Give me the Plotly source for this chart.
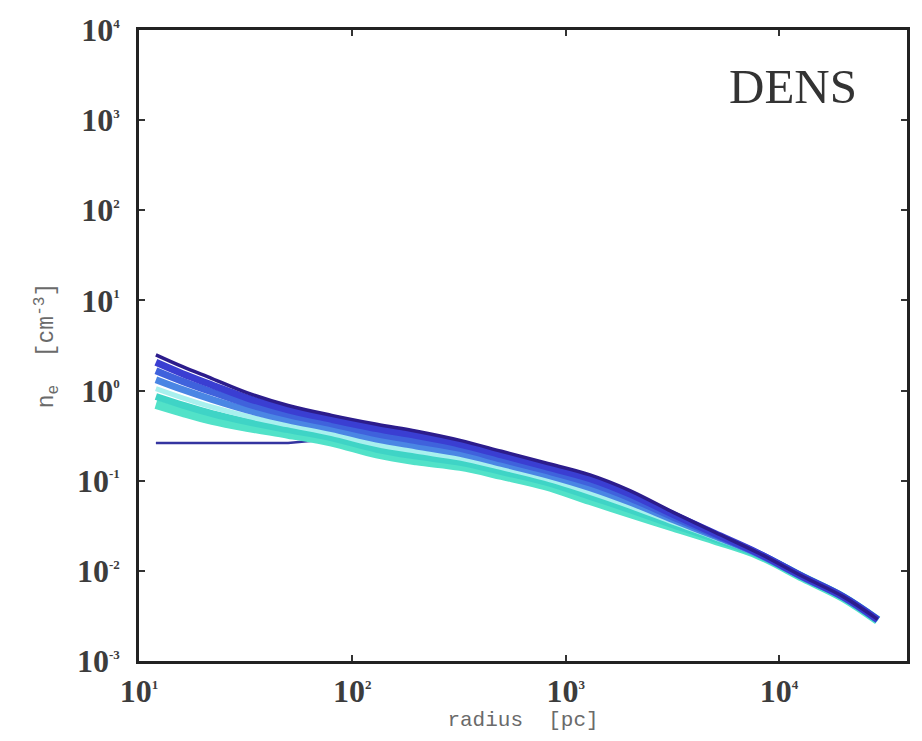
import plotly.graph_objects as go

radius = [12, 16, 22, 32, 50, 80, 130, 200, 320, 500, 800, 1300, 2000, 3200, 5000, 8000, 13000, 20000, 29000]

dens_1 = [2.49, 1.84, 1.36, 0.95, 0.684, 0.531, 0.423, 0.354, 0.280, 0.212, 0.158, 0.116, 0.0777, 0.0445, 0.0268, 0.0158, 0.00859, 0.00518, 0.00290]
dens_2 = [2.06, 1.54, 1.155, 0.831, 0.612, 0.479, 0.378, 0.316, 0.254, 0.193, 0.144, 0.1055, 0.0711, 0.0420, 0.0260, 0.01567, 0.00855, 0.00515, 0.00288]
dens_3 = [1.66, 1.265, 0.965, 0.716, 0.541, 0.428, 0.332, 0.278, 0.228, 0.1735, 0.1307, 0.0943, 0.0644, 0.0394, 0.0251, 0.01553, 0.00853, 0.00514, 0.00287]
dens_4 = [1.32, 1.026, 0.796, 0.610, 0.474, 0.378, 0.290, 0.2425, 0.2010, 0.1555, 0.1179, 0.0838, 0.0580, 0.0368, 0.0243, 0.01538, 0.00849, 0.00512, 0.00286]
dens_5 = [1.052, 0.831, 0.657, 0.520, 0.416, 0.333, 0.252, 0.2115, 0.1780, 0.1395, 0.1062, 0.0744, 0.0523, 0.0344, 0.0234, 0.01521, 0.00844, 0.00509, 0.00284]
dens_6 = [0.859, 0.691, 0.555, 0.452, 0.369, 0.299, 0.2236, 0.1874, 0.1600, 0.1262, 0.0968, 0.0670, 0.0477, 0.0324, 0.0226, 0.01510, 0.00842, 0.00507, 0.00284]
dens_7 = [0.702, 0.573, 0.468, 0.392, 0.328, 0.268, 0.198, 0.166, 0.144, 0.1145, 0.0881, 0.0603, 0.0434, 0.0305, 0.0219, 0.0150, 0.00838, 0.00505, 0.00282]
dens_core = [0.262, 0.262, 0.262, 0.262, 0.262, 0.290, 0.198, 0.166, 0.144, 0.1145, 0.0881, 0.0603, 0.0434, 0.0305, 0.0219, 0.0150, 0.00838, 0.00505, 0.00282]

# drawing order: core first, teal bundle, darkest profile on top
series = [dens_core, dens_7, dens_6, dens_5, dens_4, dens_3, dens_2, dens_1]
colors = ["#3434a0", "#52e2c8", "#3fd4c6", "#a8f0ee", "#4a86e4", "#3f62dc", "#3a3ed2", "#2c1c8c"]
widths = [2.5, 9, 7, 5, 7, 7, 7, 3.5]
shapes = ["linear", "spline", "spline", "spline", "spline", "spline", "spline", "spline"]

x_tickvals = [10, 100, 1000, 10000]
x_exps = ["1", "2", "3", "4"]
y_tickvals = [1e-3, 1e-2, 1e-1, 1, 10, 100, 1000, 10000]
y_exps = ["-3", "-2", "-1", "0", "1", "2", "3", "4"]


def pow_label(e):
    return "10<sup><span style='font-size:13px'>" + e + "</span></sup>"


fig = go.Figure()
for vals, c, w, s in zip(series, colors, widths, shapes):
    fig.add_trace(go.Scatter(x=radius, y=vals, mode="lines",
                             line=dict(color=c, width=w, shape=s),
                             showlegend=False, hoverinfo="skip"))

tickfont = dict(family="Liberation Serif, DejaVu Serif, serif", size=32, color="#3c3c3c", weight="bold")
xtitlefont = dict(family="Liberation Mono, DejaVu Sans Mono, monospace", size=21, color="#6a6a6a")
ytitlefont = dict(family="Liberation Mono, DejaVu Sans Mono, monospace", size=23, color="#6a6a6a")
axis_common = dict(showline=True, mirror="ticks", linecolor="#222222", linewidth=2.5,
                   ticks="inside", ticklen=6, tickwidth=1.5, tickcolor="#333333",
                   showgrid=False, zeroline=False, tickfont=tickfont)

fig.update_xaxes(type="log", range=[1, 4.6], tickvals=x_tickvals,
                 ticktext=[pow_label(e) for e in x_exps], ticklabelstandoff=0,
                 title=dict(text="radius  [pc]", font=xtitlefont, standoff=0),
                 **axis_common)
fig.update_yaxes(type="log", range=[-3, 4], tickvals=y_tickvals,
                 ticktext=[pow_label(e) for e in y_exps], ticklabelstandoff=10,
                 title=dict(text="n<sub>e</sub>  [cm<sup>-3</sup>]", font=ytitlefont, standoff=17),
                 **axis_common)

fig.add_annotation(text="DENS", xref="paper", yref="paper", x=0.938, y=0.91,
                   xanchor="right", yanchor="middle", showarrow=False,
                   font=dict(family="Liberation Serif, serif", size=49, color="#333333"))

fig.update_layout(width=922, height=741, margin=dict(l=139, r=12, t=25, b=80),
                  paper_bgcolor="white", plot_bgcolor="white")

fig.write_html("out.html")
